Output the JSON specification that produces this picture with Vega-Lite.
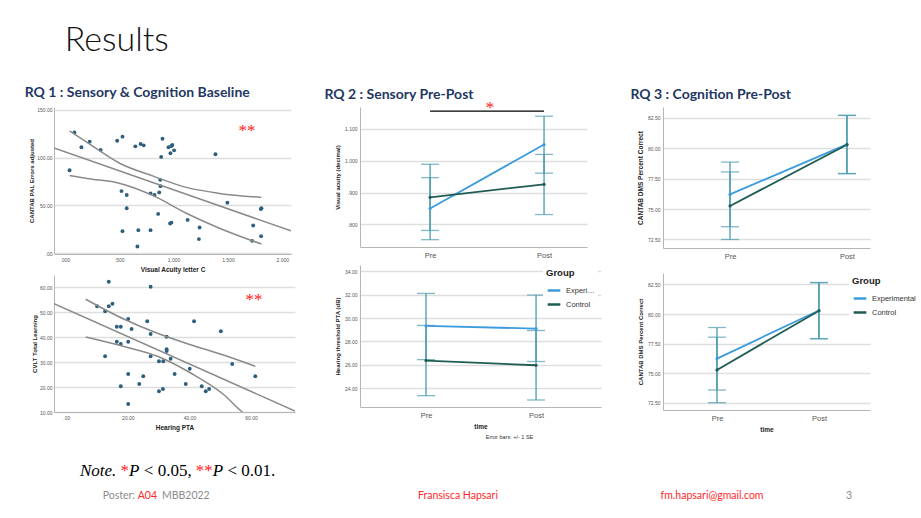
{
  "$schema": "https://vega.github.io/schema/vega-lite/v6.json",
  "background": "white",
  "padding": {"left": 24, "top": 24, "right": 0, "bottom": 0},
  "title": {"text": "Results", "anchor": "start", "font": "Lato", "fontWeight": 300, "fontSize": 34, "color": "#111", "dx": 40, "offset": 28},
  "config": {
    "view": {"stroke": null},
    "font": "Liberation Sans",
    "axis": {"labelFont": "Liberation Sans", "titleFont": "Liberation Sans", "labelFontSize": 5, "labelColor": "#555", "titleFontSize": 6, "titleColor": "#222", "titleFontWeight": "bold", "domainColor": "#b5b5b5", "domainWidth": 1, "ticks": false, "gridColor": "#dedede", "gridWidth": 1.3, "labelPadding": 3, "titlePadding": 4, "labelOverlap": false},
    "axisX": {"grid": false},
    "axisY": {"grid": true, "tickCount": 12},
    "legend": {"titleFont": "Liberation Sans", "labelFont": "Liberation Sans", "titleFontSize": 9.5, "titleFontWeight": "bold", "titleColor": "#222", "labelFontSize": 7.5, "labelColor": "#333", "symbolType": "stroke", "symbolStrokeWidth": 2.5, "symbolSize": 160, "rowPadding": 1, "fillColor": "white", "padding": 3, "orient": "right"}
  },
  "resolve": {"scale": {"color": "independent"}, "legend": {"color": "independent"}},
  "spacing": 6,
  "vconcat": [
    {
      "resolve": {"scale": {"color": "independent"}, "legend": {"color": "independent"}},
      "spacing": 29,
      "hconcat": [
        {
          "title": {"text": "RQ 1 : Sensory & Cognition Baseline", "anchor": "start", "font": "Lato", "fontWeight": "bold", "fontSize": 14, "color": "#1f3864", "dx": -4, "offset": 7},
          "spacing": 2,
          "vconcat": [
            {
              "width": 237, "height": 147,
              "layer": [
                {
                  "data": {"values": [
                    {"va": 0.043, "pal": 86.8}, {"va": 0.088, "pal": 126.4}, {"va": 0.152, "pal": 110.8}, {"va": 0.228, "pal": 116.7}, {"va": 0.329, "pal": 108.0}, {"va": 0.481, "pal": 117.7}, {"va": 0.530, "pal": 121.9}, {"va": 0.521, "pal": 64.9}, {"va": 0.569, "pal": 60.8}, {"va": 0.569, "pal": 46.9}, {"va": 0.530, "pal": 22.9}, {"va": 0.648, "pal": 111.8}, {"va": 0.697, "pal": 114.2}, {"va": 0.725, "pal": 112.8}, {"va": 0.676, "pal": 24.0}, {"va": 0.667, "pal": 6.9}, {"va": 0.788, "pal": 62.5}, {"va": 0.788, "pal": 24.0}, {"va": 0.825, "pal": 60.8}, {"va": 0.858, "pal": 41.0}, {"va": 0.868, "pal": 63.5}, {"va": 0.877, "pal": 76.7}, {"va": 0.880, "pal": 70.1}, {"va": 0.886, "pal": 100.7}, {"va": 0.898, "pal": 119.8}, {"va": 0.953, "pal": 110.8}, {"va": 0.971, "pal": 104.5}, {"va": 0.980, "pal": 112.2}, {"va": 0.989, "pal": 113.2}, {"va": 1.005, "pal": 107.6}, {"va": 0.968, "pal": 30.9}, {"va": 0.980, "pal": 31.9}, {"va": 1.129, "pal": 34.7}, {"va": 1.239, "pal": 26.7}, {"va": 1.233, "pal": 14.6}, {"va": 1.385, "pal": 103.5}, {"va": 1.495, "pal": 52.8}, {"va": 1.732, "pal": 28.8}, {"va": 1.723, "pal": 12.8}, {"va": 1.802, "pal": 46.2}, {"va": 1.808, "pal": 46.9}, {"va": 1.805, "pal": 17.7}
                  ]},
                  "mark": {"type": "circle", "size": 15, "color": "#2d5f7c", "opacity": 1},
                  "encoding": {
                    "x": {"field": "va", "type": "quantitative", "title": "Visual Acuity letter C", "scale": {"domain": [-0.1, 2.08], "nice": false, "zero": false}, "axis": {"values": [0, 0.5, 1, 1.5, 2], "tickCount": 12, "labelExpr": "datum.value < 1 ? replace(format(datum.value, '.3f'), '0.', '.') : format(datum.value, ',.3f')", "titleFontSize": 6.5}},
                    "y": {"field": "pal", "type": "quantitative", "title": "CANTAB PAL Errors adjusted", "scale": {"domain": [-1, 153], "nice": false, "zero": false}, "axis": {"values": [0, 50, 100, 150], "labelExpr": "datum.value == 0 ? '.00' : format(datum.value, '.2f')", "titlePadding": 2, "labelPadding": 2}}
                  }
                },
                {
                  "data": {"values": [
                    {"va": -0.1, "pal": 110.0, "line": "fit"}, {"va": 2.08, "pal": 23.2, "line": "fit"},
                    {"va": 0.043, "pal": 128.1, "line": "upper"}, {"va": 0.204, "pal": 116.0, "line": "upper"}, {"va": 0.508, "pal": 93.8, "line": "upper"}, {"va": 0.813, "pal": 80.6, "line": "upper"}, {"va": 1.117, "pal": 68.8, "line": "upper"}, {"va": 1.422, "pal": 62.5, "line": "upper"}, {"va": 1.808, "pal": 58.3, "line": "upper"},
                    {"va": 0.043, "pal": 81.3, "line": "lower"}, {"va": 0.204, "pal": 78.1, "line": "lower"}, {"va": 0.508, "pal": 72.9, "line": "lower"}, {"va": 0.813, "pal": 60.1, "line": "lower"}, {"va": 1.117, "pal": 41.7, "line": "lower"}, {"va": 1.422, "pal": 26.0, "line": "lower"}, {"va": 1.808, "pal": 9.4, "line": "lower"}
                  ]},
                  "mark": {"type": "line", "color": "#8a8a8a", "strokeWidth": 1.5, "interpolate": "monotone", "clip": true},
                  "encoding": {
                    "x": {"field": "va", "type": "quantitative", "title": "Visual Acuity letter C"},
                    "y": {"field": "pal", "type": "quantitative", "title": "CANTAB PAL Errors adjusted"},
                    "detail": {"field": "line"}
                  }
                },
                {
                  "data": {"values": [{}]},
                  "mark": {"type": "text", "text": "**", "font": "Liberation Serif", "fontSize": 17, "color": "#ff2020", "baseline": "middle", "dy": 4},
                  "encoding": {"x": {"datum": 1.676, "type": "quantitative"}, "y": {"datum": 132, "type": "quantitative"}}
                }
              ]
            },
            {
              "width": 241, "height": 137,
              "layer": [
                {
                  "data": {"values": [
                    {"pta": 13.8, "cvlt": 62.1}, {"pta": 27.4, "cvlt": 60.1}, {"pta": 10.0, "cvlt": 52.3}, {"pta": 12.6, "cvlt": 50.3}, {"pta": 13.8, "cvlt": 52.3}, {"pta": 15.0, "cvlt": 53.3}, {"pta": 16.4, "cvlt": 44.1}, {"pta": 17.7, "cvlt": 44.1}, {"pta": 20.1, "cvlt": 47.2}, {"pta": 21.2, "cvlt": 43.2}, {"pta": 26.3, "cvlt": 46.3}, {"pta": 27.4, "cvlt": 41.2}, {"pta": 32.6, "cvlt": 40.1}, {"pta": 41.5, "cvlt": 46.3}, {"pta": 50.2, "cvlt": 42.3}, {"pta": 16.4, "cvlt": 38.1}, {"pta": 17.7, "cvlt": 37.2}, {"pta": 20.1, "cvlt": 38.1}, {"pta": 32.6, "cvlt": 35.1}, {"pta": 32.6, "cvlt": 34.4}, {"pta": 33.9, "cvlt": 31.3}, {"pta": 27.4, "cvlt": 32.3}, {"pta": 12.6, "cvlt": 32.3}, {"pta": 30.1, "cvlt": 30.3}, {"pta": 31.5, "cvlt": 30.3}, {"pta": 40.1, "cvlt": 27.3}, {"pta": 35.2, "cvlt": 25.2}, {"pta": 25.0, "cvlt": 24.3}, {"pta": 20.1, "cvlt": 25.2}, {"pta": 23.7, "cvlt": 21.2}, {"pta": 17.7, "cvlt": 20.3}, {"pta": 38.8, "cvlt": 21.2}, {"pta": 44.0, "cvlt": 20.3}, {"pta": 46.4, "cvlt": 19.2}, {"pta": 45.3, "cvlt": 18.3}, {"pta": 31.4, "cvlt": 19.2}, {"pta": 30.1, "cvlt": 18.3}, {"pta": 20.1, "cvlt": 13.2}, {"pta": 53.9, "cvlt": 29.2}, {"pta": 61.4, "cvlt": 24.3}
                  ]},
                  "mark": {"type": "circle", "size": 15, "color": "#2d5f7c", "opacity": 1},
                  "encoding": {
                    "x": {"field": "pta", "type": "quantitative", "title": "Hearing PTA", "scale": {"domain": [-4, 74.3], "nice": false, "zero": false}, "axis": {"values": [0, 20, 40, 60], "tickCount": 12, "labelExpr": "datum.value == 0 ? '.00' : format(datum.value, '.2f')", "titleFontSize": 6.5}},
                    "y": {"field": "cvlt", "type": "quantitative", "title": "CVLT Total Learning", "scale": {"domain": [10, 64.8], "nice": false, "zero": false}, "axis": {"values": [10, 20, 30, 40, 50, 60], "format": ".2f", "titlePadding": 2, "labelPadding": 2}}
                  }
                },
                {
                  "data": {"values": [
                    {"pta": -4, "cvlt": 53.3, "line": "fit"}, {"pta": 74.3, "cvlt": 10.4, "line": "fit"},
                    {"pta": 6.3, "cvlt": 55.1, "line": "upper"}, {"pta": 18.8, "cvlt": 47.1, "line": "upper"}, {"pta": 29.6, "cvlt": 41.5, "line": "upper"}, {"pta": 40.4, "cvlt": 36.9, "line": "upper"}, {"pta": 51.3, "cvlt": 32.7, "line": "upper"}, {"pta": 61.4, "cvlt": 28.3, "line": "upper"},
                    {"pta": 6.3, "cvlt": 40.0, "line": "lower"}, {"pta": 18.8, "cvlt": 36.2, "line": "lower"}, {"pta": 29.6, "cvlt": 32.3, "line": "lower"}, {"pta": 40.4, "cvlt": 25.6, "line": "lower"}, {"pta": 51.3, "cvlt": 16.8, "line": "lower"}, {"pta": 56.7, "cvlt": 10.5, "line": "lower"}, {"pta": 61.4, "cvlt": 6.5, "line": "lower"}
                  ]},
                  "mark": {"type": "line", "color": "#8a8a8a", "strokeWidth": 1.5, "interpolate": "monotone", "clip": true},
                  "encoding": {
                    "x": {"field": "pta", "type": "quantitative", "title": "Hearing PTA"},
                    "y": {"field": "cvlt", "type": "quantitative", "title": "CVLT Total Learning"},
                    "detail": {"field": "line"}
                  }
                },
                {
                  "data": {"values": [{}]},
                  "mark": {"type": "text", "text": "**", "font": "Liberation Serif", "fontSize": 17, "color": "#ff2020", "baseline": "middle", "dy": 4},
                  "encoding": {"x": {"datum": 61, "type": "quantitative"}, "y": {"datum": 56.6, "type": "quantitative"}}
                }
              ]
            }
          ]
        },
        {
          "title": {"text": "RQ 2 : Sensory Pre-Post", "anchor": "start", "font": "Lato", "fontWeight": "bold", "fontSize": 14, "color": "#1f3864", "dx": -10, "offset": -3},
          "spacing": 6,
          "resolve": {"scale": {"color": "independent"}, "legend": {"color": "independent"}},
          "vconcat": [
            {
              "width": 227, "height": 140,
              "data": {"values": [
                {"time": "Pre", "group": "Experimental", "mean": 0.850, "lo": 0.752, "hi": 0.947},
                {"time": "Post", "group": "Experimental", "mean": 1.051, "lo": 0.961, "hi": 1.140},
                {"time": "Pre", "group": "Control", "mean": 0.885, "lo": 0.781, "hi": 0.989},
                {"time": "Post", "group": "Control", "mean": 0.926, "lo": 0.831, "hi": 1.020}
              ]},
              "encoding": {
                "x": {"field": "time", "type": "nominal", "sort": ["Pre", "Post"], "scale": {"type": "point", "domain": ["Pre", "Post"], "padding": 0.496, "align": 0.62}, "axis": {"title": null, "labelFontSize": 7.5, "labelColor": "#555", "labelAngle": 0, "labelPadding": 4}}
              },
              "layer": [
                {"mark": {"type": "rule", "color": "#4a9aae", "strokeWidth": 1.3}, "encoding": {"y": {"field": "lo", "type": "quantitative", "title": "Visual acuity (decimal)", "scale": {"domain": [0.729, 1.169], "nice": false, "zero": false}, "axis": {"values": [0.8, 0.9, 1.0, 1.1], "labelExpr": "datum.value < 1 ? replace(format(datum.value, '.3f'), '0.', '.') : format(datum.value, ',.3f')"}}, "y2": {"field": "hi"}}},
                {"mark": {"type": "tick", "color": "#4a9aae", "size": 18, "thickness": 1.3}, "encoding": {"y": {"field": "lo", "type": "quantitative", "title": "Visual acuity (decimal)"}}},
                {"mark": {"type": "tick", "color": "#4a9aae", "size": 18, "thickness": 1.3}, "encoding": {"y": {"field": "hi", "type": "quantitative", "title": "Visual acuity (decimal)"}}},
                {"mark": {"type": "line", "strokeWidth": 1.8}, "encoding": {"y": {"field": "mean", "type": "quantitative", "title": "Visual acuity (decimal)"}, "color": {"field": "group", "type": "nominal", "scale": {"domain": ["Experimental", "Control"], "range": ["#3b9bdc", "#1e5c54"]}, "legend": null}}},
                {"mark": {"type": "point", "filled": true, "size": 10, "opacity": 1}, "encoding": {"y": {"field": "mean", "type": "quantitative", "title": "Visual acuity (decimal)"}, "color": {"field": "group", "type": "nominal", "legend": null}}},
                {"data": {"values": [{}]}, "mark": {"type": "rule", "color": "#000", "strokeWidth": 1.2}, "encoding": {"x": {"datum": "Pre"}, "x2": {"datum": "Post"}, "y": {"datum": 1.156, "type": "quantitative"}}},
                {"data": {"values": [{}]}, "mark": {"type": "text", "text": "*", "font": "Liberation Serif", "fontSize": 17, "color": "#ff2020", "baseline": "middle", "dx": 60, "dy": 3}, "encoding": {"x": {"datum": "Pre"}, "y": {"datum": 1.176, "type": "quantitative"}}}
              ]
            },
            {
              "width": 241, "height": 142,
              "title": {"text": "Error bars: +/- 1 SE", "orient": "bottom", "anchor": "middle", "fontSize": 5.5, "fontWeight": "normal", "color": "#333", "dx": 29, "offset": 5},
              "data": {"values": [
                {"time": "Pre", "group": "Experimental", "mean": 29.33, "lo": 26.45, "hi": 32.11},
                {"time": "Post", "group": "Experimental", "mean": 29.10, "lo": 26.29, "hi": 31.97},
                {"time": "Pre", "group": "Control", "mean": 26.37, "lo": 23.37, "hi": 29.37},
                {"time": "Post", "group": "Control", "mean": 25.97, "lo": 23.00, "hi": 28.94}
              ]},
              "encoding": {
                "x": {"field": "time", "type": "nominal", "sort": ["Pre", "Post"], "scale": {"type": "point", "domain": ["Pre", "Post"], "padding": 0.595, "align": 0.504}, "axis": {"title": "time", "titleFontSize": 6.5, "labelFontSize": 7.5, "labelColor": "#555", "labelAngle": 0, "labelPadding": 4, "titlePadding": 5}}
              },
              "layer": [
                {"mark": {"type": "rule", "color": "#4a9aae", "strokeWidth": 1.3}, "encoding": {"y": {"field": "lo", "type": "quantitative", "title": "Hearing threshold PTA (dB)", "scale": {"domain": [22.4, 34.54], "nice": false, "zero": false}, "axis": {"values": [24, 26, 28, 30, 32, 34], "format": ".2f"}}, "y2": {"field": "hi"}}},
                {"mark": {"type": "tick", "color": "#4a9aae", "size": 18, "thickness": 1.3}, "encoding": {"y": {"field": "lo", "type": "quantitative", "title": "Hearing threshold PTA (dB)"}}},
                {"mark": {"type": "tick", "color": "#4a9aae", "size": 18, "thickness": 1.3}, "encoding": {"y": {"field": "hi", "type": "quantitative", "title": "Hearing threshold PTA (dB)"}}},
                {"mark": {"type": "line", "strokeWidth": 1.8}, "encoding": {"y": {"field": "mean", "type": "quantitative", "title": "Hearing threshold PTA (dB)"}, "color": {"field": "group", "type": "nominal", "title": "Group", "scale": {"domain": ["Experimental", "Control"], "range": ["#3b9bdc", "#1e5c54"]}, "legend": {"orient": "right", "offset": -58, "labelLimit": 31}}}},
                {"mark": {"type": "point", "filled": true, "size": 10, "opacity": 1}, "encoding": {"y": {"field": "mean", "type": "quantitative", "title": "Hearing threshold PTA (dB)"}, "color": {"field": "group", "type": "nominal", "title": "Group", "legend": {"orient": "right", "offset": -58, "labelLimit": 31}}}}
              ]
            }
          ]
        },
        {
          "title": {"text": "RQ 3 : Cognition Pre-Post", "anchor": "start", "font": "Lato", "fontWeight": "bold", "fontSize": 14, "color": "#1f3864", "dx": -7, "offset": 5},
          "spacing": 13,
          "resolve": {"scale": {"color": "independent"}, "legend": {"color": "independent"}},
          "vconcat": [
            {
              "width": 207, "height": 141,
              "data": {"values": [
                {"time": "Pre", "group": "Experimental", "mean": 76.21, "lo": 73.55, "hi": 78.87},
                {"time": "Post", "group": "Experimental", "mean": 80.33, "lo": 77.93, "hi": 82.72},
                {"time": "Pre", "group": "Control", "mean": 75.26, "lo": 72.50, "hi": 78.06},
                {"time": "Post", "group": "Control", "mean": 80.30, "lo": 77.91, "hi": 82.70}
              ]},
              "encoding": {
                "x": {"field": "time", "type": "nominal", "sort": ["Pre", "Post"], "scale": {"type": "point", "domain": ["Pre", "Post"], "padding": 0.385, "align": 0.744}, "axis": {"title": null, "labelFontSize": 7.5, "labelColor": "#555", "labelAngle": 0, "labelPadding": 4}}
              },
              "layer": [
                {"mark": {"type": "rule", "color": "#4a9aae", "strokeWidth": 1.3}, "encoding": {"y": {"field": "lo", "type": "quantitative", "title": "CANTAB DMS Percent Correct", "scale": {"domain": [71.8, 83.4], "nice": false, "zero": false}, "axis": {"values": [72.5, 75, 77.5, 80, 82.5], "format": ".2f", "titleFontSize": 6.5}}, "y2": {"field": "hi"}}},
                {"mark": {"type": "tick", "color": "#4a9aae", "size": 18, "thickness": 1.3}, "encoding": {"y": {"field": "lo", "type": "quantitative", "title": "CANTAB DMS Percent Correct"}}},
                {"mark": {"type": "tick", "color": "#4a9aae", "size": 18, "thickness": 1.3}, "encoding": {"y": {"field": "hi", "type": "quantitative", "title": "CANTAB DMS Percent Correct"}}},
                {"mark": {"type": "line", "strokeWidth": 1.8}, "encoding": {"y": {"field": "mean", "type": "quantitative", "title": "CANTAB DMS Percent Correct"}, "color": {"field": "group", "type": "nominal", "scale": {"domain": ["Experimental", "Control"], "range": ["#3b9bdc", "#1e5c54"]}, "legend": null}}},
                {"mark": {"type": "point", "filled": true, "size": 10, "opacity": 1}, "encoding": {"y": {"field": "mean", "type": "quantitative", "title": "CANTAB DMS Percent Correct"}, "color": {"field": "group", "type": "nominal", "legend": null}}}
              ]
            },
            {
              "width": 207, "height": 137,
              "data": {"values": [
                {"time": "Pre", "group": "Experimental", "mean": 76.23, "lo": 73.57, "hi": 78.86},
                {"time": "Post", "group": "Experimental", "mean": 80.30, "lo": 77.92, "hi": 82.67},
                {"time": "Pre", "group": "Control", "mean": 75.27, "lo": 72.50, "hi": 78.04},
                {"time": "Post", "group": "Control", "mean": 80.28, "lo": 77.90, "hi": 82.65}
              ]},
              "encoding": {
                "x": {"field": "time", "type": "nominal", "sort": ["Pre", "Post"], "scale": {"type": "point", "domain": ["Pre", "Post"], "padding": 0.515, "align": 0.514}, "axis": {"title": "time", "titleFontSize": 6.5, "labelFontSize": 7.5, "labelColor": "#555", "labelAngle": 0, "labelPadding": 4, "titlePadding": 5}}
              },
              "layer": [
                {"mark": {"type": "rule", "color": "#4a9aae", "strokeWidth": 1.3}, "encoding": {"y": {"field": "lo", "type": "quantitative", "title": "CANTAB DMS Percent Correct", "scale": {"domain": [71.88, 83.47], "nice": false, "zero": false}, "axis": {"values": [72.5, 75, 77.5, 80, 82.5], "format": ".2f"}}, "y2": {"field": "hi"}}},
                {"mark": {"type": "tick", "color": "#4a9aae", "size": 18, "thickness": 1.3}, "encoding": {"y": {"field": "lo", "type": "quantitative", "title": "CANTAB DMS Percent Correct"}}},
                {"mark": {"type": "tick", "color": "#4a9aae", "size": 18, "thickness": 1.3}, "encoding": {"y": {"field": "hi", "type": "quantitative", "title": "CANTAB DMS Percent Correct"}}},
                {"mark": {"type": "line", "strokeWidth": 1.8}, "encoding": {"y": {"field": "mean", "type": "quantitative", "title": "CANTAB DMS Percent Correct"}, "color": {"field": "group", "type": "nominal", "title": "Group", "scale": {"domain": ["Experimental", "Control"], "range": ["#3b9bdc", "#1e5c54"]}, "legend": {"orient": "right", "offset": -21}}}},
                {"mark": {"type": "point", "filled": true, "size": 10, "opacity": 1}, "encoding": {"y": {"field": "mean", "type": "quantitative", "title": "CANTAB DMS Percent Correct"}, "color": {"field": "group", "type": "nominal", "title": "Group", "legend": {"orient": "right", "offset": -21}}}}
              ]
            }
          ]
        }
      ]
    },
    {
      "width": 880, "height": 60,
      "data": {"values": [{}]},
      "encoding": {
        "x": {"datum": 0, "type": "quantitative", "scale": {"domain": [0, 880], "nice": false, "zero": false}, "axis": null},
        "y": {"datum": 24, "type": "quantitative", "scale": {"domain": [60, 0], "nice": false, "zero": false}, "axis": null}
      },
      "layer": [
        {"mark": {"type": "text", "text": "Note.", "font": "Liberation Serif", "fontStyle": "italic", "fontSize": 17, "align": "left", "baseline": "middle", "color": "#000"}, "encoding": {"x": {"datum": 26, "type": "quantitative"}}},
        {"mark": {"type": "text", "text": "*", "font": "Liberation Serif", "fontSize": 17, "align": "left", "baseline": "middle", "color": "#ff2020"}, "encoding": {"x": {"datum": 66.6, "type": "quantitative"}}},
        {"mark": {"type": "text", "text": "P", "font": "Liberation Serif", "fontStyle": "italic", "fontSize": 17, "align": "left", "baseline": "middle", "color": "#000"}, "encoding": {"x": {"datum": 75.1, "type": "quantitative"}}},
        {"mark": {"type": "text", "text": "< 0.05,", "font": "Liberation Serif", "fontSize": 17, "align": "left", "baseline": "middle", "color": "#000"}, "encoding": {"x": {"datum": 89.8, "type": "quantitative"}}},
        {"mark": {"type": "text", "text": "**", "font": "Liberation Serif", "fontSize": 17, "align": "left", "baseline": "middle", "color": "#ff2020"}, "encoding": {"x": {"datum": 141.8, "type": "quantitative"}}},
        {"mark": {"type": "text", "text": "P", "font": "Liberation Serif", "fontStyle": "italic", "fontSize": 17, "align": "left", "baseline": "middle", "color": "#000"}, "encoding": {"x": {"datum": 158.8, "type": "quantitative"}}},
        {"mark": {"type": "text", "text": "< 0.01.", "font": "Liberation Serif", "fontSize": 17, "align": "left", "baseline": "middle", "color": "#000"}, "encoding": {"x": {"datum": 173.4, "type": "quantitative"}}},
        {"mark": {"type": "text", "text": "Poster:", "font": "Lato", "fontSize": 10.5, "align": "left", "baseline": "middle", "color": "#8c8c8c"}, "encoding": {"x": {"datum": 48.7, "type": "quantitative"}, "y": {"datum": 49, "type": "quantitative"}}},
        {"mark": {"type": "text", "text": "A04", "font": "Lato", "fontSize": 10.5, "align": "left", "baseline": "middle", "color": "#ff2a2a"}, "encoding": {"x": {"datum": 83.7, "type": "quantitative"}, "y": {"datum": 49, "type": "quantitative"}}},
        {"mark": {"type": "text", "text": "MBB2022", "font": "Lato", "fontSize": 10.5, "align": "left", "baseline": "middle", "color": "#8c8c8c"}, "encoding": {"x": {"datum": 108, "type": "quantitative"}, "y": {"datum": 49, "type": "quantitative"}}},
        {"mark": {"type": "text", "text": "Fransisca Hapsari", "font": "Lato", "fontSize": 10.5, "align": "left", "baseline": "middle", "color": "#ff2a2a"}, "encoding": {"x": {"datum": 364, "type": "quantitative"}, "y": {"datum": 49, "type": "quantitative"}}},
        {"mark": {"type": "text", "text": "fm.hapsari@gmail.com", "font": "Lato", "fontSize": 10.5, "align": "center", "baseline": "middle", "color": "#ff2a2a"}, "encoding": {"x": {"datum": 658, "type": "quantitative"}, "y": {"datum": 49, "type": "quantitative"}}},
        {"mark": {"type": "text", "text": "3", "font": "Lato", "fontSize": 10.5, "align": "center", "baseline": "middle", "color": "#8c8c8c"}, "encoding": {"x": {"datum": 795, "type": "quantitative"}, "y": {"datum": 49, "type": "quantitative"}}}
      ]
    }
  ]
}
